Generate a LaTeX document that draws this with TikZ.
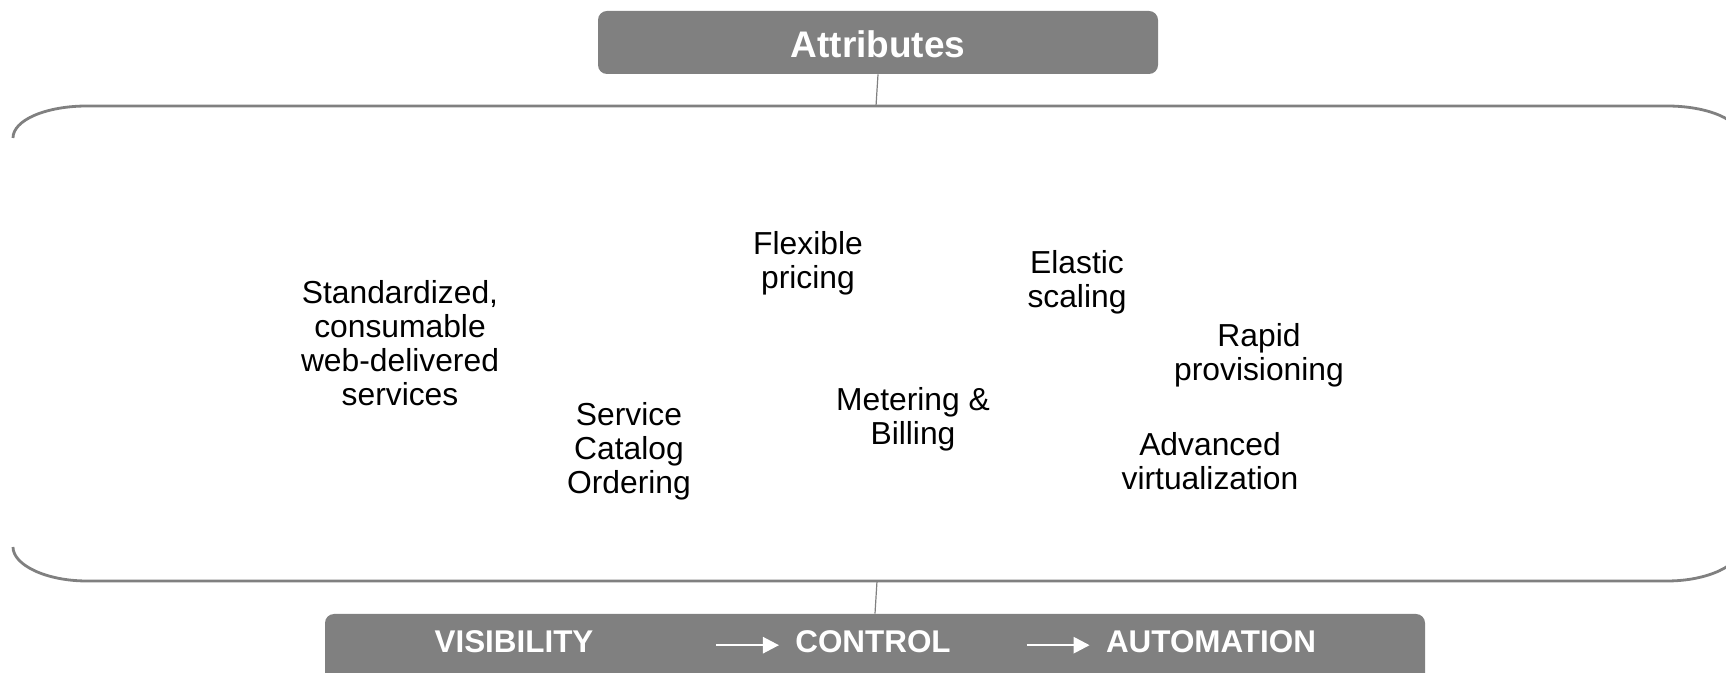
\documentclass[tikz,border=0pt]{standalone}
\usepackage{fontspec}
\setmainfont{Liberation Sans}
\usetikzlibrary{arrows.meta}
\definecolor{boxgray}{HTML}{808080}

\begin{document}
\begin{tikzpicture}[x=0.5pt, y=-0.5pt,
	feature/.style={align=center, inner sep=0pt, font=\fontsize{15.9}{17}\selectfont},
	header/.style={fill=boxgray, rounded corners=4.5pt, inner sep=0pt, text=white},
	stage/.style={inner sep=0pt, anchor=base, text=white, font=\bfseries\fontsize{15.7}{17}\selectfont},
	flow/.style={white, line width=1.3pt, -{Triangle[length=8pt, width=8pt]}},
	brace/.style={boxgray, line width=1.4pt},
	link/.style={boxgray, line width=0.6pt}]
	\useasboundingbox (0,0) rectangle (1726,673);

	% header and bracket
	\node[header, minimum width=280pt, minimum height=31.5pt, font=\bfseries\fontsize{18.5}{20}\selectfont] (attr) at (878,42.5) {\raisebox{-1pt}[\height][0pt]{Attributes}};
	\draw[brace] (13,138) .. controls (13,120) and (46,106) .. (87,106) -- (1667,106) .. controls (1708,106) and (1741,120) .. (1741,138);
	\draw[brace] (13,547) .. controls (13,565) and (46,581) .. (87,581) -- (1667,581) .. controls (1708,581) and (1741,565) .. (1741,547);
	\coordinate (topmid) at (876,106);
	\coordinate (botmid) at (877,581);
	\draw[link] (attr.south) -- (topmid);

	% attributes
	\node[feature] (std) at (400,343.5) {Standardized,\\consumable\\web-delivered\\services};
	\node[feature] (catalog) at (629,451) {Service\\Catalog\\Ordering};
	\node[feature] (pricing) at (808,263.5) {Flexible\\pricing};
	\node[feature] (metering) at (913,419) {Metering \&\\Billing};
	\node[feature] (elastic) at (1077,282) {Elastic\\scaling};
	\node[feature] (rapid) at (1259,355) {Rapid\\provisioning};
	\node[feature] (virt) at (1210,461) {Advanced\\virtualization};

	% stages
	\node[header, minimum width=550pt, minimum height=40pt] (trend) at (875,654) {};
	\draw[link] (botmid) -- (trend.north);
	\node[stage] (vis) at (514,653) {VISIBILITY};
	\node[stage] (ctrl) at (873,653) {CONTROL};
	\node[stage] (auto) at (1211,653) {AUTOMATION};
	\draw[flow] ([xshift=-39.5pt, yshift=-1.5pt]ctrl.west) -- ([xshift=-8pt, yshift=-1.5pt]ctrl.west);
	\draw[flow] ([xshift=-39.5pt, yshift=-1.5pt]auto.west) -- ([xshift=-8pt, yshift=-1.5pt]auto.west);
\end{tikzpicture}
\end{document}
